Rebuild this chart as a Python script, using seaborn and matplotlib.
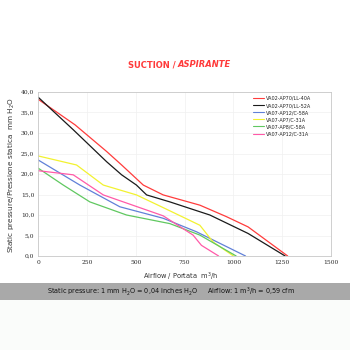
import matplotlib
matplotlib.use("Agg")
import matplotlib.pyplot as plt
import seaborn as sns
import pandas as pd
from matplotlib.patches import Rectangle

series_names = ["VA02-AP70/LL-40A", "VA02-AP70/LL-52A", "VA07-AP12/C-58A",
                "VA07-AP7/C-31A", "VA07-AP8/C-58A", "VA07-AP12/C-31A"]
colors = ["#ff3c3c", "#1a1a1a", "#6080d8", "#f2f230", "#60c860", "#ff5aa8"]

red_x = [0, 188, 350, 427, 538, 640, 828, 964, 1075, 1278]
red_y = [38.2, 32.0, 25.5, 22.2, 17.3, 14.9, 12.4, 9.6, 7.1, 0.0]
black_x = [0, 179, 350, 427, 503, 555, 674, 879, 1075, 1265]
black_y = [38.7, 30.8, 23.0, 19.8, 17.3, 14.9, 13.2, 10.0, 5.5, 0.0]
blue_x = [0, 213, 418, 640, 811, 1062]
blue_y = [23.4, 17.3, 12.0, 9.2, 5.9, 0.0]
yellow_x = [0, 196, 333, 503, 640, 828, 896, 1000]
yellow_y = [24.4, 22.2, 17.3, 14.9, 11.8, 7.5, 3.4, 0.0]
green_x = [0, 128, 264, 452, 674, 828, 1014]
green_y = [21.4, 17.3, 13.2, 10.0, 7.9, 5.1, 0.0]
pink_x = [0, 179, 333, 640, 793, 836, 924]
pink_y = [20.8, 19.8, 14.9, 9.8, 5.1, 2.6, 0.0]

xs = [red_x, black_x, blue_x, yellow_x, green_x, pink_x]
ys = [red_y, black_y, blue_y, yellow_y, green_y, pink_y]

x_ticks = [0, 250, 500, 750, 1000, 1250, 1500]
y_ticks = [0, 5, 10, 15, 20, 25, 30, 35, 40]
y_tick_labels = ["0,0", "5,0", "10,0", "15,0", "20,0", "25,0", "30,0", "35,0", "40,0"]

rows = []
for name, xx, yy in zip(series_names, xs, ys):
    for i, (a, b) in enumerate(zip(xx, yy)):
        rows.append({"series": name, "airflow": a, "pressure": b, "order": i})
df = pd.DataFrame(rows)

sns.set_style("white")
plt.rcParams['font.family'] = ['DejaVu Sans']

fig = plt.figure(figsize=(3.5, 3.5), dpi=100)
fig.patch.set_facecolor("white")

fig.patches.append(Rectangle((0, 0), 1, 50/350, transform=fig.transFigure,
                             facecolor="#fafcfa", edgecolor="none", zorder=0))
fig.patches.append(Rectangle((0, 50/350), 1, 17/350, transform=fig.transFigure,
                             facecolor="#a9a9a9", edgecolor="none", zorder=0))

ax = fig.add_axes([38.3/350, (350-256)/350, (331-38.3)/350, (256-92)/350])
sns.lineplot(data=df, x="airflow", y="pressure", hue="series", sort=False,
             estimator=None, units="series", palette=dict(zip(series_names, colors)),
             hue_order=series_names, linewidth=0.9, ax=ax)

ax.set_xlim(0, 1500)
ax.set_ylim(0, 40)
ax.set_xticks(x_ticks)
ax.set_xticklabels([str(t) for t in x_ticks], fontsize=4.3, family="DejaVu Serif")
ax.set_yticks(y_ticks)
ax.set_yticklabels(y_tick_labels, fontsize=4.3, family="DejaVu Serif")
ax.tick_params(length=0, pad=3)
ax.grid(True, color="#f0f0f0", linewidth=0.5)
for s in ax.spines.values():
    s.set_color("#c8c8c8")
    s.set_linewidth(0.6)
ax.set_xlabel("")
ax.set_ylabel("")

leg = ax.legend(loc="upper left", bbox_to_anchor=((253-38.3)/(331-38.3), 1 - 4/164),
                frameon=False, fontsize=3.5, handlelength=2.3, handletextpad=0.4,
                labelspacing=0.42, borderaxespad=0.0, borderpad=0.0)
for line in leg.get_lines():
    line.set_linewidth(0.8)

fig.text(12/350, 1 - 175/350, "Static pressure/Pressione statica  mm H$_2$O",
         rotation=90, ha="center", va="center", fontsize=5.2, color="#333333")
fig.text(181/350, 1 - 277/350, "Airflow / Portata  m$^3$/h",
         ha="center", va="center", fontsize=4.8, color="#333333")

fig.text(178/350, 1 - 64.5/350, "SUCTION / ", ha="right", va="center",
         fontsize=6.0, fontweight="bold", color="#ff3a3a")
fig.text(178/350, 1 - 64.5/350, "ASPIRANTE", ha="left", va="center",
         fontsize=6.0, fontweight="bold", style="italic", color="#ff3a3a")

fig.text(171.5/350, 1 - 292/350,
         "Static pressure: 1 mm H$_2$O = 0,04 inches H$_2$O     Airflow: 1 m$^3$/h = 0,59 cfm",
         ha="center", va="center", fontsize=4.7, color="#111111")

fig.savefig("out.png", dpi=100)
